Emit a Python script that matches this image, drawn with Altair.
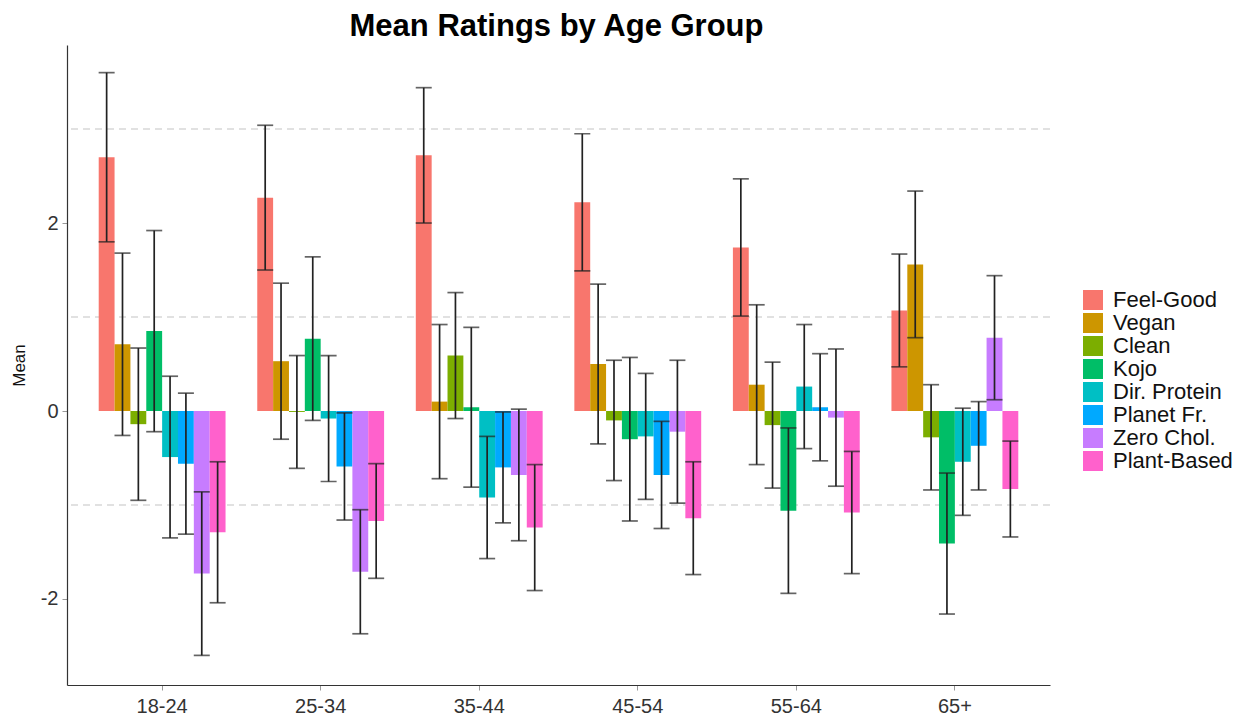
import altair as alt
import pandas as pd

# Age groups on the x axis and the eight rated labels (legend order)
age_groups = ["18-24", "25-34", "35-44", "45-54", "55-64", "65+"]
labels = ["Feel-Good", "Vegan", "Clean", "Kojo", "Dir. Protein",
          "Planet Fr.", "Zero Chol.", "Plant-Based"]
palette = ["#F8766D", "#CD9600", "#7CAE00", "#00BE67", "#00BFC4",
           "#00A9FF", "#C77CFF", "#FF61CC"]

# Mean rating per label, one value per age group
mean_feel_good = [2.70, 2.27, 2.72, 2.22, 1.74, 1.07]
mean_vegan = [0.71, 0.53, 0.10, 0.50, 0.28, 1.56]
mean_clean = [-0.14, -0.01, 0.59, -0.10, -0.15, -0.28]
mean_kojo = [0.85, 0.77, 0.04, -0.30, -1.06, -1.41]
mean_dir_protein = [-0.49, -0.08, -0.92, -0.27, 0.26, -0.54]
mean_planet = [-0.56, -0.59, -0.60, -0.68, 0.04, -0.37]
mean_zero_chol = [-1.73, -1.71, -0.68, -0.22, -0.07, 0.78]
mean_plant_based = [-1.29, -1.17, -1.24, -1.14, -1.08, -0.83]

# Half-width of the error bar per label, one value per age group
err_feel_good = [0.90, 0.77, 0.72, 0.73, 0.73, 0.60]
err_vegan = [0.97, 0.83, 0.82, 0.85, 0.85, 0.78]
err_clean = [0.81, 0.60, 0.67, 0.64, 0.67, 0.56]
err_kojo = [1.07, 0.87, 0.85, 0.87, 0.88, 0.75]
err_dir_protein = [0.86, 0.67, 0.65, 0.67, 0.66, 0.57]
err_planet = [0.75, 0.57, 0.59, 0.57, 0.57, 0.47]
err_zero_chol = [0.87, 0.66, 0.70, 0.76, 0.73, 0.66]
err_plant_based = [0.75, 0.61, 0.67, 0.60, 0.65, 0.51]

# Dashed reference lines
grid_values = [-1, 1, 3]

means = [mean_feel_good, mean_vegan, mean_clean, mean_kojo,
         mean_dir_protein, mean_planet, mean_zero_chol, mean_plant_based]
errs = [err_feel_good, err_vegan, err_clean, err_kojo,
        err_dir_protein, err_planet, err_zero_chol, err_plant_based]

rows = []
for lab, m_list, e_list in zip(labels, means, errs):
    for age, m, e in zip(age_groups, m_list, e_list):
        rows.append({"age": age, "label": lab, "mean": m,
                     "lo": round(m - e, 3), "hi": round(m + e, 3)})
df = pd.DataFrame(rows)

FONT = "Liberation Sans"
y_scale = alt.Scale(domain=[-2.915, 3.894], nice=False, zero=False)

x_enc = alt.X("age:N", sort=age_groups,
              scale=alt.Scale(paddingInner=0.2, paddingOuter=0.2),
              axis=alt.Axis(title=None, labelAngle=0, labelFontSize=20,
                            labelColor="#333333", labelFont=FONT,
                            tickColor="#999999", tickSize=5, labelPadding=6,
                            domainColor="#333333", domainWidth=1.2))
x_off = alt.XOffset("label:N", sort=labels,
                    scale=alt.Scale(paddingInner=0, paddingOuter=0))

base = alt.Chart(df)

grid = alt.Chart(pd.DataFrame({"g": grid_values})).mark_rule(
    color="#c4c4c4", strokeDash=[7, 5], strokeWidth=1.1
).encode(y=alt.Y("g:Q", scale=y_scale))

bars = base.mark_bar().encode(
    x=x_enc,
    xOffset=x_off,
    y=alt.Y("mean:Q", scale=y_scale,
            axis=alt.Axis(title="Mean", values=[-2, 0, 2],
                          labelExpr="datum.value < 0 ? '-' + abs(datum.value) : '' + datum.value",
                          grid=False, titleFontSize=17, titleFont=FONT,
                          titleFontWeight="normal", titleColor="#111111",
                          titleX=-48, titleY=320, titleAngle=-90,
                          titleAlign="center", titleBaseline="middle",
                          labelFontSize=20,
                          labelColor="#333333", labelFont=FONT,
                          tickColor="#999999", tickSize=5, labelPadding=4,
                          domainColor="#333333", domainWidth=1.2)),
    y2=alt.datum(0),
    color=alt.Color("label:N", sort=labels,
                    scale=alt.Scale(domain=labels, range=palette),
                    legend=alt.Legend(title=None, orient="none",
                                      legendX=1015, legendY=244,
                                      symbolType="square", symbolSize=400,
                                      symbolStrokeWidth=0, symbolOpacity=1,
                                      labelFontSize=22, labelFont=FONT,
                                      labelColor="#111111", rowPadding=1,
                                      labelOffset=9)),
)

whisker = base.mark_rule(color="#222222", strokeWidth=1.7).encode(
    x=x_enc, xOffset=x_off,
    y=alt.Y("lo:Q", scale=y_scale), y2="hi:Q",
)
cap_lo = base.mark_tick(orient="horizontal", size=16, thickness=1.7,
                        color="#222222").encode(
    x=x_enc, xOffset=x_off, y=alt.Y("lo:Q", scale=y_scale))
cap_hi = base.mark_tick(orient="horizontal", size=16, thickness=1.7,
                        color="#222222").encode(
    x=x_enc, xOffset=x_off, y=alt.Y("hi:Q", scale=y_scale))

chart = alt.layer(grid, bars, whisker, cap_lo, cap_hi).properties(
    width=983, height=640,
    background="white",
    title=alt.TitleParams("Mean Ratings by Age Group", fontSize=31,
                          fontWeight="bold", font=FONT, color="#000000",
                          anchor="middle", frame="group", dx=-2, offset=2),
    autosize=alt.AutoSizeParams(type="none"),
    padding={"left": 67, "top": 45, "right": 199, "bottom": 34},
).configure_view(stroke=None)

chart.save("out.html", embed_options={"renderer": "svg", "actions": False})
